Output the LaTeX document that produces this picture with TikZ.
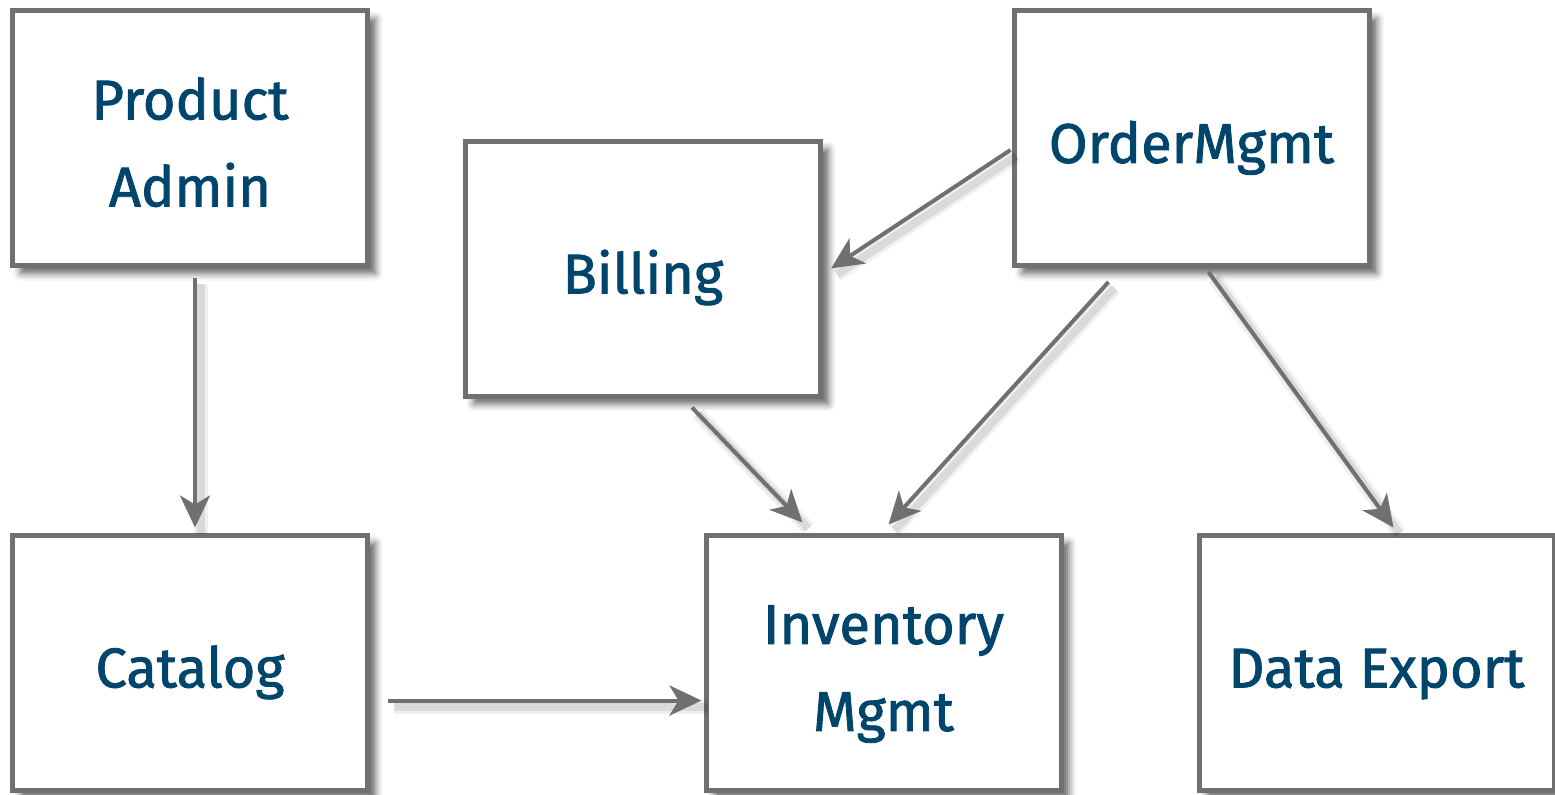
\documentclass[tikz,border=0pt]{standalone}
\usepackage{fontspec}
\setmainfont{Fira Sans}[FakeBold=1.5,UprightFeatures={FakeBold=1.5}]
\usetikzlibrary{arrows.meta,shadows.blur}
\definecolor{edgegray}{RGB}{112,112,112}
\definecolor{txtblue}{RGB}{0,69,107}
\newcommand{\boxlbl}[1]{\raisebox{0pt}[\dimexpr\height+7.5pt\relax][\depth]{\begin{tabular}{@{}c@{}}#1\end{tabular}}}
\tikzset{
  box/.style={draw=edgegray, line width=2.5pt, fill=white, minimum width=177.5pt, minimum height=127.5pt,
    inner sep=0pt, align=center, text=txtblue, font=\fontsize{28}{43.5}\selectfont,
    blur shadow={shadow xshift=4pt, shadow yshift=-4pt, shadow blur radius=3.5pt, shadow opacity=60}},
  conn/.style={draw=edgegray, line width=2pt, -{Stealth[length=16pt,width=15pt,inset=4.5pt]},
    preaction={draw=black, arrows=-, draw opacity=0.06, line width=7pt, transform canvas={shift={(3pt,-3pt)}}},
    preaction={draw=black, arrows=-, draw opacity=0.09, line width=4pt, transform canvas={shift={(3pt,-3pt)}}}}
}
\begin{document}
\begin{tikzpicture}[x=0.5pt,y=-0.5pt]
\useasboundingbox (0,0) rectangle (1555,794);
\node[box] (pa)  at (190,138) {\boxlbl{Product\\Admin}};
\node[box] (bil) at (643,268.5) {\boxlbl{Billing}};
\node[box] (ord) at (1191.5,138) {\boxlbl{OrderMgmt}};
\node[box] (cat) at (190,662.5) {\boxlbl{Catalog}};
\node[box] (inv) at (883.5,662.5) {\boxlbl{Inventory\\Mgmt}};
\node[box] (de)  at (1376.5,662.5) {\boxlbl{Data Export}};
\draw[conn] ([xshift=2.5pt,yshift=-5pt]pa.south) -- ([xshift=2.5pt,yshift=2.5pt]cat.north);
\draw[conn] ([xshift=9pt,yshift=-19pt]cat.east) -- ([xshift=-1pt,yshift=-19pt]inv.west);
\draw[conn] ([xshift=24.5pt,yshift=-4.5pt]bil.south) -- ([xshift=-40.5pt,yshift=5pt]inv.north);
\draw[conn] ([xshift=-41.5pt,yshift=-7pt]ord.south) -- ([xshift=2.5pt,yshift=4pt]inv.north);
\draw[conn] ([xshift=-0.5pt,yshift=-6pt]ord.west) -- ([xshift=4pt]bil.east);
\draw[conn] ([xshift=8.5pt,yshift=-2pt]ord.south) -- ([xshift=8.5pt,yshift=2.5pt]de.north);
\end{tikzpicture}
\end{document}
